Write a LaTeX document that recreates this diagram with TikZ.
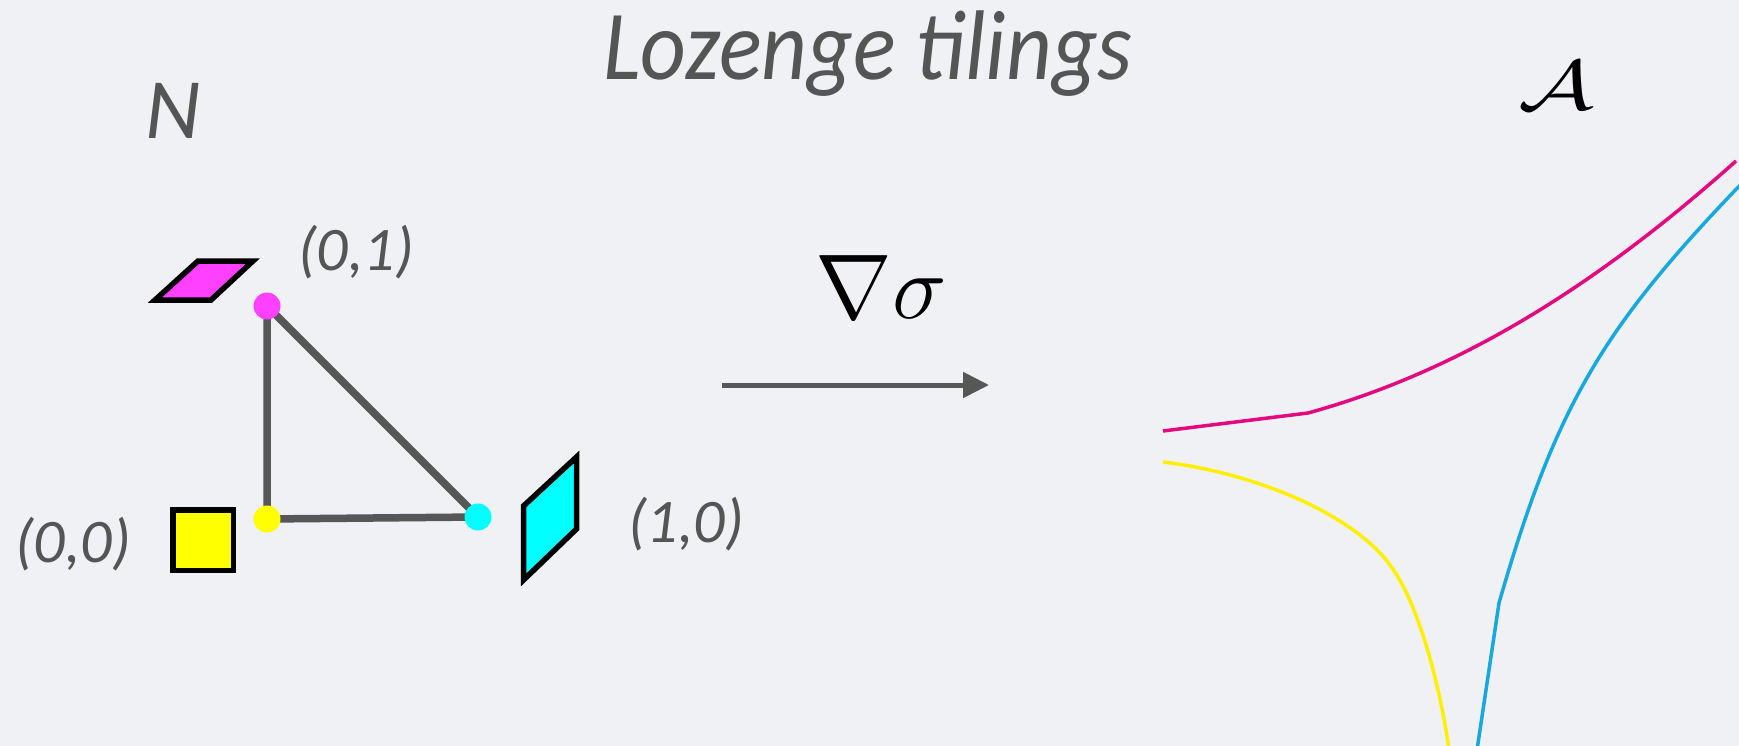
\documentclass[tikz,border=0pt]{standalone}
\usepackage{fix-cm}
\usepackage{fontspec}
\newfontfamily\gill{Carlito}
\newfontfamily\gilltitle{Carlito}[FakeStretch=0.9]
\usetikzlibrary{arrows.meta}
\definecolor{bgc}{RGB}{240,241,245}
\definecolor{txt}{RGB}{85,85,85}
\definecolor{edgec}{RGB}{87,87,87}
\definecolor{lmag}{RGB}{255,64,255}
\definecolor{lcyan}{RGB}{0,255,255}
\definecolor{lyel}{RGB}{255,255,0}
\definecolor{cmag}{RGB}{229,9,127}
\definecolor{ccyan}{RGB}{23,168,224}
\definecolor{cyel}{RGB}{255,240,0}
\pgfdeclarelayer{back}
\pgfdeclarelayer{edges}
\pgfsetlayers{back,edges,main}
\tikzset{
  lbl/.style={anchor=base, text=txt, inner sep=0pt, font=\gill\itshape\fontsize{62}{70}\selectfont},
  dot/.style={circle, inner sep=0pt, minimum size=27pt, fill=#1},
  tile/.style={draw=black, line width=5.5pt, line join=miter, fill=#1},
  curve/.style={draw=#1, line width=3.5pt, line cap=butt},
}
\begin{document}
\begin{tikzpicture}[x=1pt,y=-1pt]
\useasboundingbox (0,0) rectangle (1739,746);
\begin{pgfonlayer}{back}
\fill[bgc] (0,0) rectangle (1739,746);
\end{pgfonlayer}
% titles
\node[anchor=base, text=txt, inner sep=0pt, font=\gilltitle\itshape\fontsize{99}{110}\selectfont] (title) at (868,80) {Lozenge tilings};
\node[anchor=base, text=txt, inner sep=0pt, font=\gill\itshape\fontsize{86}{90}\selectfont] (N) at (173,139) {N};
\node[anchor=base, inner sep=0pt, font=\fontsize{70}{80}\selectfont] (A) at (1556,110) {\scalebox{1.35}[1]{$\mathcal{A}$}};
% dots
\node[dot=lmag] (m) at (267,306) {};
\node[dot=lyel] (y) at (267,519) {};
\node[dot=lcyan] (c) at (478,517) {};
\begin{pgfonlayer}{edges}
\draw[edgec, line width=7.5pt, line join=round] (m.center) -- (y.center) -- (c.center) -- cycle;
\end{pgfonlayer}
% tiles
\draw[tile=lmag] (155,300) -- (211,300) -- (253,261) -- (198,261) -- cycle;
\draw[tile=lyel] (172.75,509.75) rectangle (233.25,570.25);
\draw[tile=lcyan] (523.5,506) -- (576.5,457) -- (576.5,529) -- (523.5,580) -- cycle;
% labels
\node[lbl] (l01) at (356,270) {(0,1)};
\node[lbl] (l00) at (73,562) {(0,0)};
\node[lbl] (l10) at (686,542) {(1,0)};
% arrow
\coordinate (a1) at (722,385);
\coordinate (a2) at (989,385);
\draw[edgec, line width=5pt, -{Triangle[length=26pt,width=25pt]}] (a1) -- (a2);
\node[anchor=base, inner sep=0pt, font=\fontsize{92}{100}\selectfont] (grad) at (881,318) {$\nabla\sigma$};
% curves
\draw[curve=cmag] (1163,431) -- (1308,413) .. controls (1468,369) and (1606,277) .. (1736,161);
\draw[curve=ccyan] (1477,750) -- (1499,603) .. controls (1556,405) and (1603,327) .. (1745,180);
\draw[curve=cyel] (1163,462) .. controls (1263,474) and (1356,518) .. (1390,565) .. controls (1423,609) and (1443,705) .. (1449,750);
\end{tikzpicture}
\end{document}
